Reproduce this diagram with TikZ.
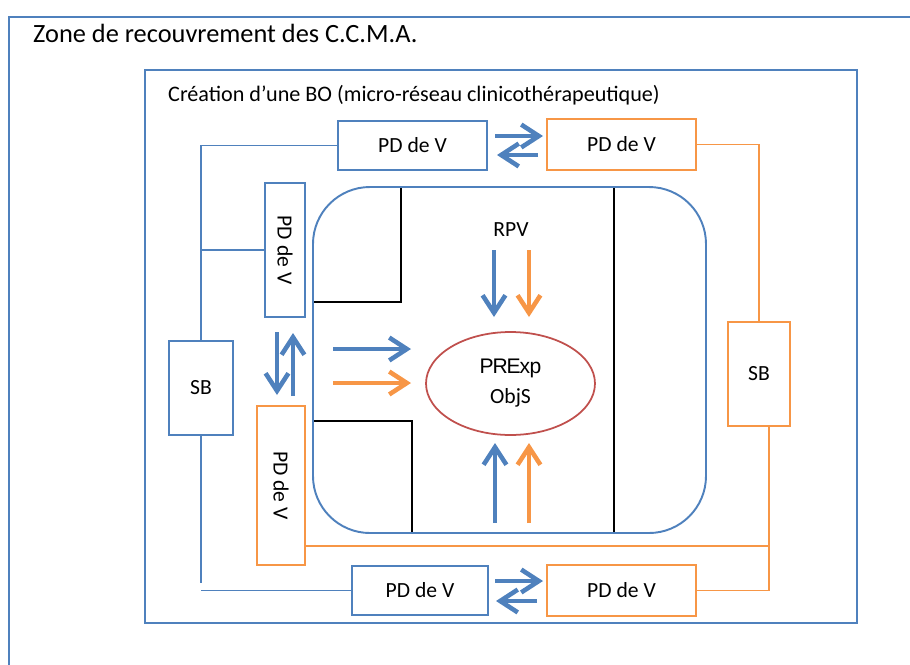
\documentclass[tikz,border=0pt]{standalone}
\usepackage{fontspec}
\setmainfont{Carlito}
\newfontfamily\arialfont{Liberation Sans}
\usetikzlibrary{shapes.geometric,arrows.meta,positioning}
\definecolor{ccblue}{HTML}{4F81BD}
\definecolor{ccorange}{HTML}{F79646}
\definecolor{ccred}{HTML}{C0504D}

\begin{document}
\begin{tikzpicture}[
    x=0.02cm,
    y=-0.02cm,
    frame/.style={draw=ccblue, line width=1.1pt},
    bluebox/.style={draw=ccblue, line width=1.1pt, inner sep=0pt,
        minimum width=2.98cm, minimum height=0.98cm,
        font=\fontsize{12.3}{14}\selectfont},
    orangebox/.style={bluebox, draw=ccorange},
    blueline/.style={ccblue, line width=1.1pt},
    orangeline/.style={ccorange, line width=1.1pt},
    wall/.style={black, line width=1pt},
    fat/.style={line width=2.6pt, -{Straight Barb[length=10pt,width=13pt]}}
]
    \useasboundingbox (0,0) rectangle (910,664);
    \clip (0,0) rectangle (910,664);

    % Frames
    \draw[frame] (9,17) rectangle (940,700);
    \node[anchor=west, font=\fontsize{15}{18}\selectfont] (zone) at (27,33)
        {Zone de recouvrement des C.C.M.A.};
    \draw[frame] (145,70) rectangle (857,623);
    \node[anchor=west, font=\fontsize{12.6}{15}\selectfont] (bo) at (162,95)
        {Création d’une BO (micro-réseau clinicothérapeutique)};

    % Core with its walls
    \draw[frame, rounded corners=1.14cm] (313,187) rectangle (706,533);
    \draw[wall] (401,188) -- (401,302) -- (314,302);
    \draw[wall] (314,421) -- (412,421) -- (412,532);
    \draw[wall] (614,188) -- (614,532);

    % Boxes
    \node[bluebox] (pdTL) at (412.5,145.5) {PD de V};
    \node[orangebox, minimum height=1.02cm] (pdTR) at (621.5,144.5) {PD de V};
    \node[bluebox, minimum width=2.72cm] (pdBL) at (420,590.5) {PD de V};
    \node[orangebox, minimum height=1.02cm] (pdBR) at (621.5,590.5) {PD de V};
    \node[bluebox, rotate=-90, minimum width=2.68cm, minimum height=0.8cm]
        (pdVL) at (285,250) {PD de V};
    \node[orangebox, rotate=-90, minimum width=3.18cm, minimum height=0.96cm]
        (pdVO) at (281,485.5) {PD de V};
    \node[bluebox, minimum width=1.28cm, minimum height=1.88cm] (sbL) at (201,388) {SB};
    \node[orangebox, minimum width=1.24cm, minimum height=2.08cm] (sbR) at (759,374) {SB};

    % Centre
    \node[draw=ccred, line width=1pt, ellipse, minimum width=3.38cm,
        minimum height=2.06cm, inner sep=0pt, align=center] (obj) at (510.5,383.5)
        {{\arialfont\fontsize{12}{14}\selectfont P\kern-0.6pt R\kern-0.6pt E\kern-0.6pt x\kern-0.3pt p}\\[5pt]
         {\fontsize{12.3}{14}\selectfont ObjS}};
    \node[font=\fontsize{12.3}{14}\selectfont] (rpv) at (511,230) {RPV};

    % Blue links (rotated boxes: south is their left side)
    \draw[blueline] (pdTL.west) -| (sbL.north);
    \draw[blueline] (pdVL.south) -- (pdVL.south -| sbL);
    \coordinate (bEnd) at (201,583);
    \draw[blueline] (sbL.south) -- (bEnd);
    \draw[blueline] (pdBL.west) -- (pdBL.west -| sbL);

    % Orange links
    \draw[orangeline] (pdTR.east) -| (sbR.north);
    \coordinate (sbRfoot) at (769,426);
    \draw[orangeline] (pdBR.east) -| (sbRfoot);
    \coordinate (oMid) at (769,546);
    \draw[orangeline] (oMid) -- (oMid -| pdVO.north);

    % Arrows
    \draw[fat, ccblue] (495,136) -- (543,136);
    \draw[fat, ccblue] (538,155) -- (497,155);
    \draw[fat, ccblue] (495,581) -- (543,581);
    \draw[fat, ccblue] (537,601) -- (496,601);
    \draw[fat, ccblue] (277,332) -- (277,395);
    \draw[fat, ccblue] (293,396) -- (293,333);
    \draw[fat, ccblue] (333,349) -- (411,349);
    \draw[fat, ccorange] (333,383) -- (411,383);
    \draw[fat, ccblue] (494,250) -- (494,317);
    \draw[fat, ccorange] (529,250) -- (529,317);
    \draw[fat, ccblue] (495,523) -- (495,443);
    \draw[fat, ccorange] (529,523) -- (529,443);
\end{tikzpicture}
\end{document}
